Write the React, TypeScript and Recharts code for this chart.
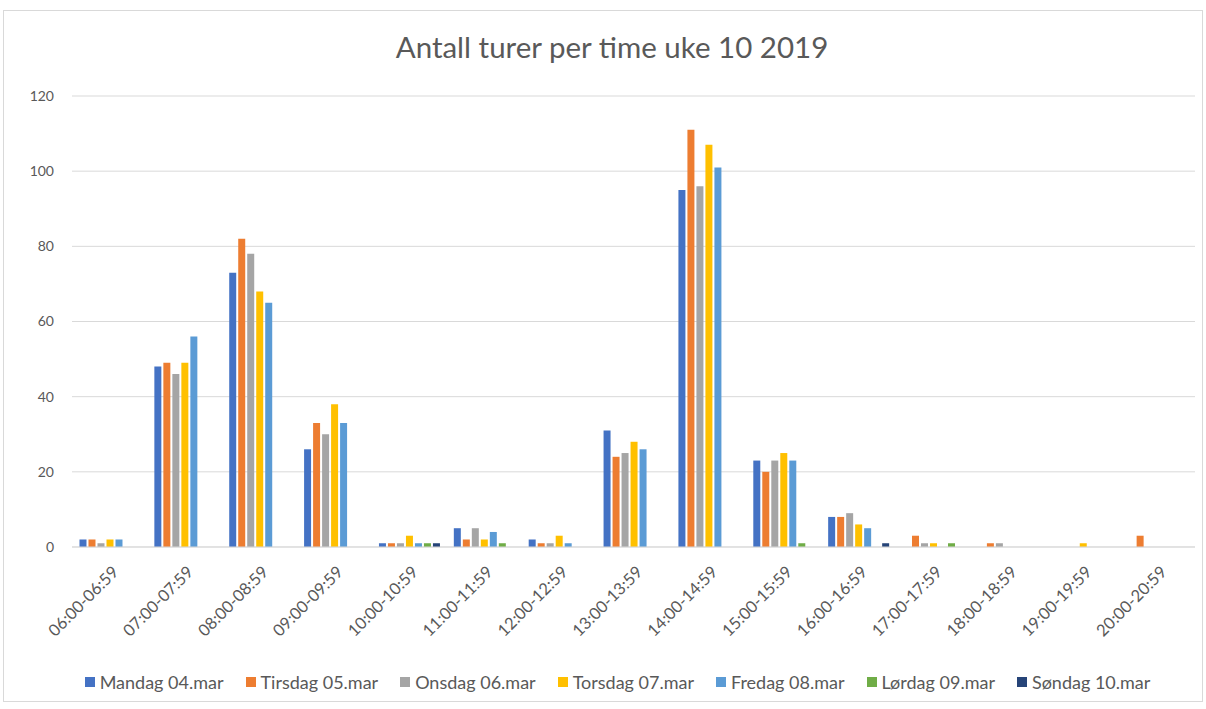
import {
  BarChart,
  Bar,
  XAxis,
  YAxis,
  CartesianGrid,
  Legend,
} from "recharts";

const hours = [
  "06:00-06:59",
  "07:00-07:59",
  "08:00-08:59",
  "09:00-09:59",
  "10:00-10:59",
  "11:00-11:59",
  "12:00-12:59",
  "13:00-13:59",
  "14:00-14:59",
  "15:00-15:59",
  "16:00-16:59",
  "17:00-17:59",
  "18:00-18:59",
  "19:00-19:59",
  "20:00-20:59",
];

const mandag = [2, 48, 73, 26, 1, 5, 2, 31, 95, 23, 8, 0, 0, 0, 0];
const tirsdag = [2, 49, 82, 33, 1, 2, 1, 24, 111, 20, 8, 3, 1, 0, 3];
const onsdag = [1, 46, 78, 30, 1, 5, 1, 25, 96, 23, 9, 1, 1, 0, 0];
const torsdag = [2, 49, 68, 38, 3, 2, 3, 28, 107, 25, 6, 1, 0, 1, 0];
const fredag = [2, 56, 65, 33, 1, 4, 1, 26, 101, 23, 5, 0, 0, 0, 0];
const lordag = [0, 0, 0, 0, 1, 1, 0, 0, 0, 1, 0, 1, 0, 0, 0];
const sondag = [0, 0, 0, 0, 1, 0, 0, 0, 0, 0, 1, 0, 0, 0, 0];

const yTicks = [0, 20, 40, 60, 80, 100, 120];

const series = [
  { key: "Mandag 04.mar", values: mandag, color: "#4472C4" },
  { key: "Tirsdag 05.mar", values: tirsdag, color: "#ED7D31" },
  { key: "Onsdag 06.mar", values: onsdag, color: "#A5A5A5" },
  { key: "Torsdag 07.mar", values: torsdag, color: "#FFC000" },
  { key: "Fredag 08.mar", values: fredag, color: "#5B9BD5" },
  { key: "Lørdag 09.mar", values: lordag, color: "#70AD47" },
  { key: "Søndag 10.mar", values: sondag, color: "#264478" },
];

const data = hours.map((h, i) => {
  const row: any = { name: h };
  series.forEach((s) => (row[s.key] = s.values[i]));
  return row;
});

const font = "Lato, 'Open Sans', sans-serif";

function HourTick({ x, y, payload }: any) {
  return (
    <g transform={`translate(${x + 6},${y + 14})`}>
      <text
        x={0}
        y={0}
        dy="0.35em"
        textAnchor="end"
        transform="rotate(-45)"
        fill="#595959"
        fontSize={16.5}
        fontFamily={font}
      >
        {payload.value}
      </text>
    </g>
  );
}

function DayLegend() {
  return (
    <div
      style={{
        display: "flex",
        justifyContent: "center",
        paddingLeft: 28,
        gap: 22,
        fontFamily: font,
        fontSize: 18,
        color: "#595959",
        lineHeight: "22px",
      }}
    >
      {series.map((s) => (
        <div key={s.key} style={{ display: "flex", alignItems: "center" }}>
          <span
            style={{
              display: "inline-block",
              width: 10,
              height: 10,
              background: s.color,
              marginRight: 5,
            }}
          />
          <span>{s.key}</span>
        </div>
      ))}
    </div>
  );
}

export default function App() {
  return (
    <div
      style={{
        position: "absolute",
        left: 0,
        top: 0,
        width: 1206,
        height: 709,
        background: "#fff",
      }}
    >
      <div
        style={{
          position: "absolute",
          left: 3,
          top: 10,
          width: 1200,
          height: 692,
          border: "1px solid #d9d9d9",
          boxSizing: "border-box",
        }}
      />
      <div
        style={{
          position: "absolute",
          left: 0,
          top: 29,
          width: 1224,
          textAlign: "center",
          fontFamily: font,
          fontSize: 29.5,
          color: "#595959",
        }}
      >
        Antall turer per time uke 10 2019
      </div>
      <div style={{ position: "absolute", left: 0, top: 0 }}>
        <BarChart
          width={1206}
          height={709}
          data={data}
          margin={{ top: 96, right: 11, bottom: 16, left: 12 }}
          barCategoryGap="10%"
          barGap={2}
        >
          <CartesianGrid vertical={false} stroke="#d9d9d9" />
          <XAxis
            dataKey="name"
            interval={0}
            tick={<HourTick />}
            tickLine={false}
            axisLine={{ stroke: "#d9d9d9" }}
            height={124}
          />
          <YAxis
            domain={[0, 120]}
            ticks={yTicks}
            axisLine={false}
            tickLine={false}
            tickSize={0}
            tickMargin={18}
            width={60}
            tick={{ fill: "#595959", fontSize: 14, fontFamily: font }}
          />
          <Legend verticalAlign="bottom" content={<DayLegend />} />
          {series.map((s) => (
            <Bar
              key={s.key}
              dataKey={s.key}
              fill={s.color}
              isAnimationActive={false}
            />
          ))}
        </BarChart>
      </div>
    </div>
  );
}
